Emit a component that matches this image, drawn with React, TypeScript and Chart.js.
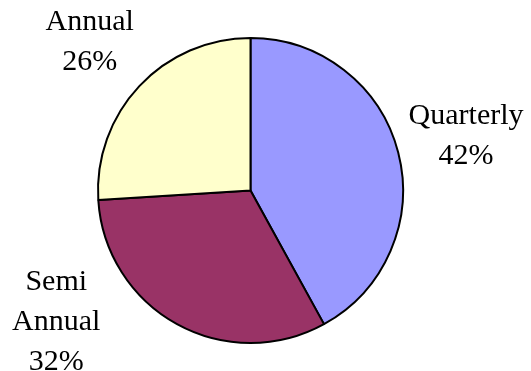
import React, { useEffect, useRef } from "react";
import { Chart, registerables } from "chart.js";

Chart.register(...registerables);

const categories = ["Quarterly", "Semi Annual", "Annual"];
const categoryLines = [["Quarterly"], ["Semi", "Annual"], ["Annual"]];
const values = [42, 32, 26];
const colors = ["#9999FF", "#993366", "#FFFFCC"];

const outsideLabels = {
  id: "outsideLabels",
  afterDatasetsDraw(chart: any, _args: any, opts: any) {
    const ctx = chart.ctx;
    const meta = chart.getDatasetMeta(0);
    const data = chart.data.datasets[0].data as number[];
    const total = data.reduce((a: number, b: number) => a + b, 0);
    ctx.save();
    ctx.font = `${opts.fontSize}px "Liberation Serif", "Times New Roman", serif`;
    ctx.fillStyle = "#000";
    ctx.textAlign = "center";
    ctx.textBaseline = "alphabetic";
    meta.data.forEach((arc: any, i: number) => {
      const { x, y, startAngle, endAngle, outerRadius } = arc.getProps(
        ["x", "y", "startAngle", "endAngle", "outerRadius"],
        true
      );
      const mid = (startAngle + endAngle) / 2;
      const d = outerRadius + opts.gap;
      const nudge = opts.nudges[i] || [0, 0];
      const cx = x + Math.cos(mid) * d + nudge[0];
      const cy = y + Math.sin(mid) * d + nudge[1];
      const lines = [...categoryLines[i], Math.round((data[i] / total) * 100) + "%"];
      const h = (lines.length - 1) * opts.lineHeight + opts.capHeight;
      const base = cy - h / 2 + opts.capHeight;
      lines.forEach((t: string, k: number) => ctx.fillText(t, cx, base + k * opts.lineHeight));
    });
    ctx.restore();
  },
};

export default function App() {
  const ref = useRef<HTMLCanvasElement | null>(null);
  useEffect(() => {
    if (!ref.current) return;
    const chart = new Chart(ref.current, {
      type: "pie",
      data: {
        labels: categories,
        datasets: [
          {
            data: values,
            backgroundColor: colors,
            borderColor: "#000",
            borderWidth: 2,
          },
        ],
      },
      options: {
        animation: false,
        responsive: false,
        layout: { padding: { left: 97, right: 127, top: 37, bottom: 27 } },
        plugins: {
          legend: { display: false },
          tooltip: { enabled: false },
          outsideLabels: {
            fontSize: 30,
            lineHeight: 40,
            capHeight: 20,
            gap: 68,
            nudges: [
              [2, -2],
              [-88, -64],
              [0, 0],
            ],
          },
        } as any,
      },
      plugins: [outsideLabels],
    });
    return () => chart.destroy();
  }, []);
  return (
    <div style={{ position: "absolute", left: 0, top: 0, width: 531, height: 371, background: "#fff" }}>
      <canvas ref={ref} width={531} height={371} style={{ display: "block" }} />
    </div>
  );
}
